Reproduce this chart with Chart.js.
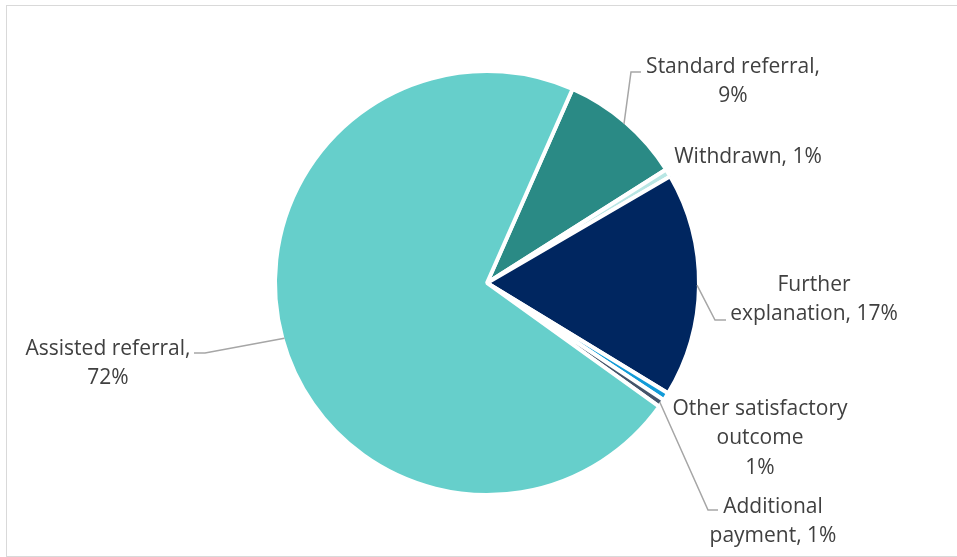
<!DOCTYPE html>
<html>
<head>
<meta charset="utf-8">
<script src="https://cdn.jsdelivr.net/npm/chart.js@4/dist/chart.umd.min.js"></script>
<style>
  body { margin: 0; background: #fff; }
  #wrap { width: 957px; height: 557px; position: relative; }
</style>
</head>
<body>
<div id="wrap"><canvas id="myChart"></canvas></div>
<script>
const categories = [
  "Standard referral",
  "Withdrawn",
  "Further explanation",
  "Other satisfactory outcome",
  "Additional payment",
  "Assisted referral",
];
const shares = [9.4, 0.6, 17.1, 0.6, 0.6, 71.7];
const sliceColors = ["#2a8a85", "#b8e6e4", "#002660", "#129bd8", "#44546a", "#66cfcb"];

// label placement, offsets from the pie centre
const labelLayout = [
  { dx: 246, dy: -216, sep: ",\n", leader: { ex: 144, ey: -211, hx: 154 } },
  { dx: 261, dy: -126, sep: ", " },
  { dx: 327, dy: 2, sep: " ", breakAt: 1, leader: { ex: 228, ey: 37, hx: 239 } },
  { dx: 273, dy: 126, sep: "\n", breakAt: 2 },
  { dx: 286, dy: 224, sep: " ", breakAt: 1, leader: { ex: 221, ey: 227, hx: 231 } },
  { dx: -379, dy: 66, sep: ",\n", leader: { ex: -282, ey: 70, hx: -293 } },
];

const font = '21px "Open Sans", sans-serif';
const lineHeight = 29.5;

function labelLines(i, pct) {
  const lay = labelLayout[i];
  let name = categories[i];
  if (lay.breakAt) {
    const words = name.split(" ");
    name = words.slice(0, lay.breakAt).join(" ") + "\n" + words.slice(lay.breakAt).join(" ");
  }
  let text = name + lay.sep + pct + "%";
  if (lay.sep === " ") text = name + ", " + pct + "%";
  return text.split("\n");
}

const pieLabels = {
  id: "pieLabels",
  beforeDraw(chart) {
    const c = chart.ctx;
    c.save();
    c.strokeStyle = "#d9d9d9";
    c.lineWidth = 1;
    c.strokeRect(6.5, 5.5, 960, 551);
    c.restore();
  },
  afterDatasetsDraw(chart) {
    const c = chart.ctx;
    const meta = chart.getDatasetMeta(0);
    const total = shares.reduce((a, b) => a + b, 0);
    c.save();
    c.font = font;
    c.fillStyle = "#404040";
    c.textAlign = "center";
    c.textBaseline = "middle";
    meta.data.forEach((arc, i) => {
      const p = arc.getProps(["x", "y", "startAngle", "endAngle", "outerRadius"], true);
      const lay = labelLayout[i];
      const mid = (p.startAngle + p.endAngle) / 2;
      const r = p.outerRadius - 2;
      if (lay.leader) {
        c.beginPath();
        c.strokeStyle = "#a6a6a6";
        c.lineWidth = 1.5;
        c.moveTo(p.x + Math.cos(mid) * r, p.y + Math.sin(mid) * r);
        c.lineTo(p.x + lay.leader.ex, p.y + lay.leader.ey);
        c.lineTo(p.x + lay.leader.hx, p.y + lay.leader.ey);
        c.stroke();
      }
      const pct = Math.round((shares[i] / total) * 100);
      labelLines(i, pct).forEach((ln, k) => {
        c.fillText(ln, p.x + lay.dx, p.y + lay.dy + k * lineHeight);
      });
    });
    c.restore();
  },
};

const ctx = document.getElementById("myChart").getContext("2d");
const myChart = new Chart(ctx, {
  type: "pie",
  data: {
    labels: categories,
    datasets: [
      {
        data: shares,
        backgroundColor: sliceColors,
        borderColor: "#ffffff",
        borderWidth: 4,
      },
    ],
  },
  options: {
    responsive: true,
    maintainAspectRatio: false,
    animation: false,
    rotation: 23.8,
    layout: { padding: { top: 69, bottom: 60, left: 200, right: 183 } },
    plugins: {
      legend: { display: false },
      tooltip: { enabled: false },
    },
  },
  plugins: [pieLabels],
});
</script>
</body>
</html>
